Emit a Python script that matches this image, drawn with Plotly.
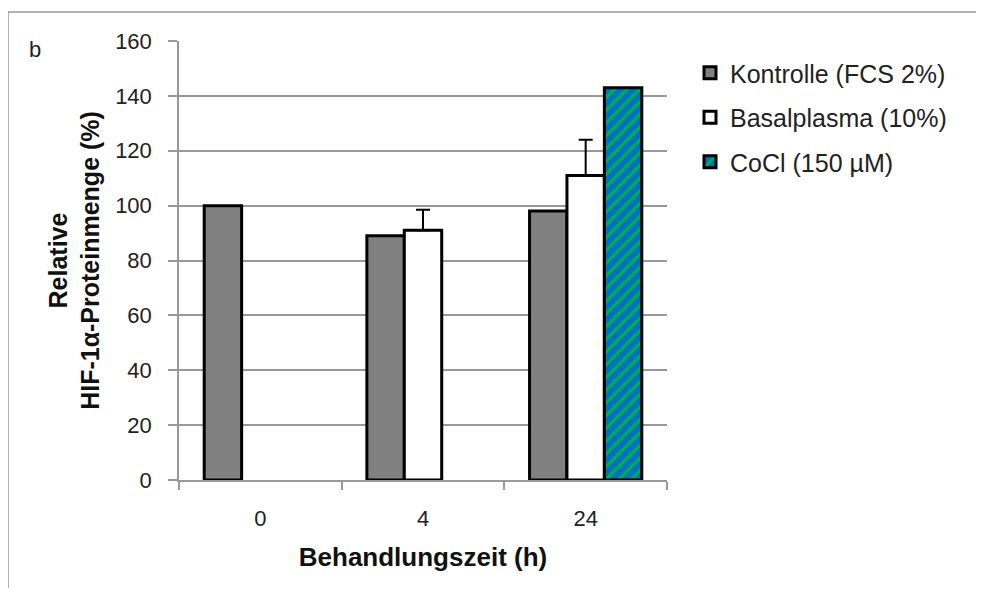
import plotly.graph_objects as go

categories = ["0", "4", "24"]
series_names = ["Kontrolle (FCS 2%)", "Basalplasma (10%)", "CoCl (150 µM)"]
kontrolle = [100, 89, 98]
basalplasma = [None, 91, 111]
basal_err = [0, 7.5, 13]
cocl = [None, None, 143]
y_ticks = [0, 20, 40, 60, 80, 100, 120, 140, 160]

OFF = 8  # browser body margin
W, H = 984 - 2 * OFF, 596 - 2 * OFF
L, T = 179 - OFF, 41 - OFF
pw, ph = 488, 439
R, B = W - L - pw, H - T - ph

def px_x(x):  # screen pixel -> paper
    return (x - OFF - L) / pw

def px_y(y):
    return 1 - (y - OFF - T) / ph

FONT = "Liberation Sans, Arial, sans-serif"

fig = go.Figure()
fig.add_trace(go.Bar(
    x=categories, y=kontrolle, name=series_names[0],
    marker=dict(color="#808080", line=dict(color="black", width=3)),
    legendgroup="a",
))
fig.add_trace(go.Bar(
    x=categories, y=basalplasma, name=series_names[1],
    marker=dict(color="white", line=dict(color="black", width=3)),
    error_y=dict(type="data", array=basal_err, arrayminus=[0, 0, 0], symmetric=False,
                 color="black", thickness=2, width=7),
    legendgroup="b",
))
fig.add_trace(go.Bar(
    x=categories, y=cocl, name=series_names[2],
    marker=dict(color="#0070C0", line=dict(color="black", width=3),
                pattern=dict(shape="/", fgcolor="#00B050", bgcolor="#0070C0",
                             size=9, solidity=0.35, fillmode="replace")),
    legendgroup="c",
))

fig.update_layout(
    width=W, height=H,
    margin=dict(l=L, r=R, t=T, b=B),
    paper_bgcolor="white", plot_bgcolor="white",
    barmode="group", bargap=0.31, bargroupgap=0,
    font=dict(family=FONT, size=22, color="#222"),
    showlegend=True,
    legend=dict(x=px_x(690), y=px_y(50), xanchor="left", yanchor="top",
                font=dict(size=25, color="#222"), traceorder="grouped",
                tracegroupgap=9, itemwidth=30, bgcolor="rgba(0,0,0,0)"),
    xaxis=dict(
        type="category", showline=True, linecolor="#999", linewidth=1.5,
        ticks="outside", ticklen=8, tickcolor="#999", tickwidth=1.5,
        tickson="boundaries", showgrid=False, ticklabelstandoff=18,
        tickfont=dict(size=22, color="#222"),
        title=dict(text="<b>Behandlungszeit (h)</b>", font=dict(size=26, color="#111"), standoff=18),
    ),
    yaxis=dict(
        range=[0, 160], tickvals=y_ticks, showline=True, linecolor="#999", linewidth=1.5,
        ticks="outside", ticklen=9, tickcolor="#999", tickwidth=1.5,
        showgrid=True, gridcolor="#999", gridwidth=1.5, zeroline=False,
        ticklabelstandoff=12,
        tickfont=dict(size=22, color="#222"),
        title=dict(text="<b>Relative<br>HIF-1α-Proteinmenge (%)</b>", font=dict(size=25, color="#111"), standoff=8),
    ),
    shapes=[
        dict(type="line", xref="paper", yref="paper",
             x0=px_x(8), x1=px_x(990), y0=px_y(12), y1=px_y(12),
             line=dict(color="#999", width=1.5), layer="below"),
        dict(type="line", xref="paper", yref="paper",
             x0=px_x(8), x1=px_x(8), y0=px_y(12), y1=px_y(600),
             line=dict(color="#999", width=1.5), layer="below"),
    ],
    annotations=[dict(text="b", xref="paper", yref="paper", x=px_x(27), y=px_y(50),
                      xanchor="left", yanchor="middle", showarrow=False,
                      font=dict(size=22, color="#222", family=FONT))],
)

fig.write_html("out.html")
